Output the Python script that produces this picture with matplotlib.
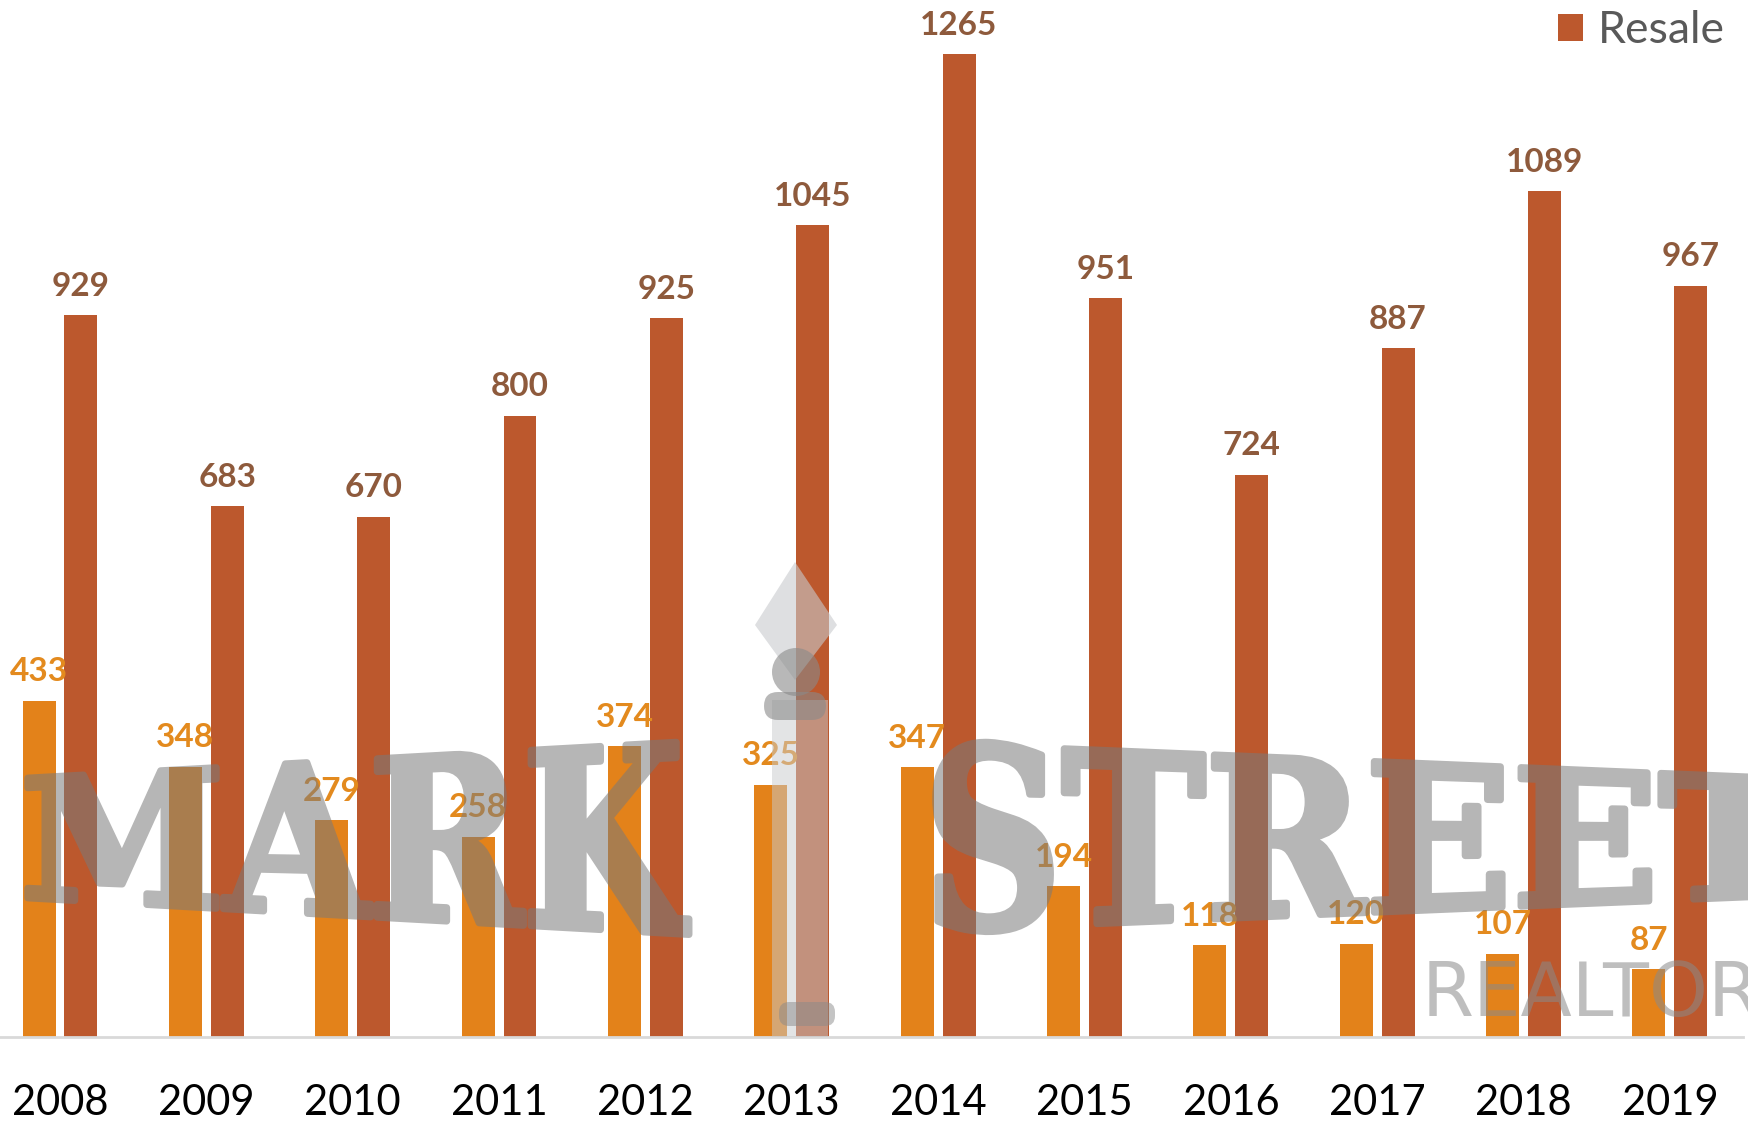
import matplotlib
matplotlib.use("Agg")
import matplotlib.pyplot as plt
import numpy as np
from matplotlib.textpath import TextPath
from matplotlib.font_manager import FontProperties
from matplotlib.path import Path
from matplotlib.patches import PathPatch, Polygon, Circle, FancyBboxPatch, Rectangle
from matplotlib.transforms import IdentityTransform

years = ['2008', '2009', '2010', '2011', '2012', '2013',
         '2014', '2015', '2016', '2017', '2018', '2019']
new_sales = [433, 348, 279, 258, 374, 325, 347, 194, 118, 120, 107, 87]
resale = [929, 683, 670, 800, 925, 1045, 1265, 951, 724, 887, 1089, 967]

c_new = '#E3821A'
c_resale = '#BC582D'
c_new_lbl = '#E38A1E'
c_resale_lbl = '#8E5A3C'

plt.rcParams['font.family'] = ['Lato', 'DejaVu Sans']

W, H = 1749, 1123
fig = plt.figure(figsize=(W / 100, H / 100), dpi=100)
ax = fig.add_axes([0, 0.0766, 0.9966, 0.9234])

x = np.arange(len(years))
w = 0.225
off = 0.143
b1 = ax.bar(x - off, new_sales, w, color=c_new, label='New')
b2 = ax.bar(x + off, resale, w, color=c_resale, label='Resale')

for xi, v in zip(x, new_sales):
    ax.annotate(str(v), (xi - off, v), xytext=(0, 14), textcoords='offset points',
                ha='center', va='baseline', fontsize=24, fontweight='bold', color=c_new_lbl)
for xi, v in zip(x, resale):
    ax.annotate(str(v), (xi + off, v), xytext=(0, 14), textcoords='offset points',
                ha='center', va='baseline', fontsize=24, fontweight='bold', color=c_resale_lbl)

ax.set_xlim(-0.41, 11.5)
ax.set_ylim(0, 1335)
ax.set_yticks([])
ax.set_xticks(x)
ax.set_xticklabels(years, fontsize=30)
ax.tick_params(axis='x', length=0, pad=34)
for s in ['top', 'left', 'right']:
    ax.spines[s].set_visible(False)
ax.spines['bottom'].set_color('#D9D9D9')
ax.spines['bottom'].set_linewidth(2)

leg = ax.legend(handles=[b2], loc='upper right', bbox_to_anchor=(1.0126, 1.029),
                frameon=False, fontsize=32, handlelength=0.56, handleheight=0.56,
                handletextpad=0.33, labelcolor='#595959')


def fade(alpha):
    # whole watermark gets one alpha, so fill and stroke do not double up
    def f(img, dpi):
        img = img.copy()
        img[..., 3] *= alpha
        return img, 0, 0
    return f


# watermark: warped slab text, pixel coords measured from the top
def warped_text(s, xl, xr, yc, hl, hr):
    tp = TextPath((0, 0), s, size=100,
                  prop=FontProperties(family='DejaVu Serif', weight='bold'))
    v = tp.vertices.copy()
    u0, u1 = v[:, 0].min(), v[:, 0].max()
    v0, v1 = v[:, 1].min(), v[:, 1].max()
    t = (v[:, 0] - u0) / (u1 - u0)
    h = hl + (hr - hl) * t
    px = xl + t * (xr - xl)
    py = (H - yc) + ((v[:, 1] - v0) / (v1 - v0) - 0.5) * h
    p = Path(np.column_stack([px, py]), tp.codes)
    pp = PathPatch(p, transform=IdentityTransform(), facecolor='#7a7a7a',
                   edgecolor='#7a7a7a', linewidth=5, joinstyle='round', zorder=5)
    pp.set_agg_filter(fade(0.55))
    fig.add_artist(pp)


warped_text('MARK', 20, 689, 838, 119, 193)
warped_text('STREET', 923, 1800, 837, 195, 120)

# small logo in the middle
gray_l = '#c8cacd'
gray_d = '#8a8a8a'
fig.add_artist(Polygon([[795, H - 562], [755, H - 625], [795, H - 680], [837, H - 625]],
                       closed=True, transform=IdentityTransform(), facecolor=gray_l,
                       edgecolor='none', alpha=0.6, zorder=5))
fig.add_artist(Rectangle((772, H - 1037), 56, 1037 - 700, transform=IdentityTransform(),
                         facecolor=gray_l, edgecolor='none', alpha=0.5, zorder=5))
fig.add_artist(Circle((796, H - 672), 24, transform=IdentityTransform(), facecolor=gray_d,
                      edgecolor='none', alpha=0.6, zorder=6))
fig.add_artist(FancyBboxPatch((764, H - 720), 62, 28, boxstyle='round,pad=0,rounding_size=14',
                              transform=IdentityTransform(), facecolor=gray_d,
                              edgecolor='none', alpha=0.6, zorder=6))
fig.add_artist(FancyBboxPatch((779, H - 1026), 56, 24, boxstyle='round,pad=0,rounding_size=10',
                              transform=IdentityTransform(), facecolor=gray_d,
                              edgecolor='none', alpha=0.5, zorder=6))

fig.text(0.813, 0.095, 'REALTOR®', fontsize=54, family='DejaVu Sans',
         color='#8a8a8a', alpha=0.55, va='baseline', zorder=6)

fig.savefig('out.png', dpi=100)
